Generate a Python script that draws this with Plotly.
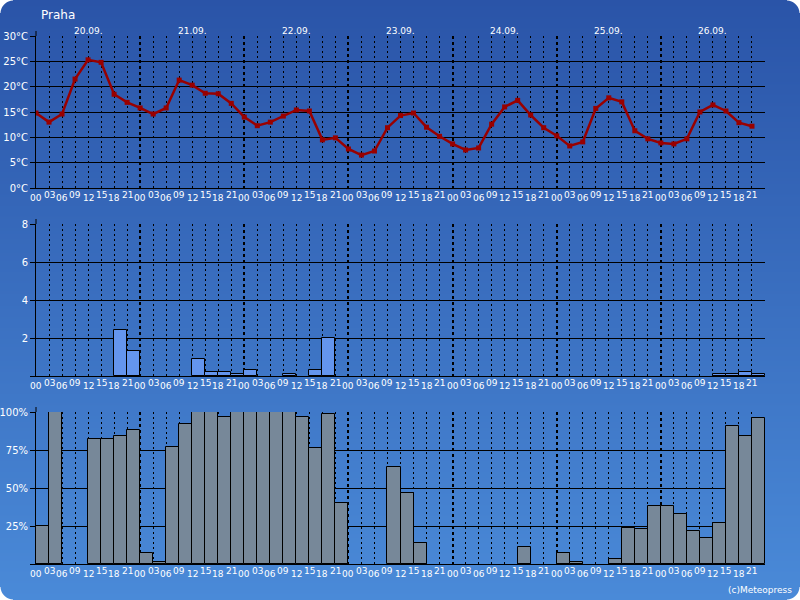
import base64, struct, zlib
import numpy as np
import plotly.graph_objects as go

# ---------------- data ----------------
days = ["20.09.", "21.09.", "22.09.", "23.09.", "24.09.", "25.09.", "26.09."]
hours = ["00", "03", "06", "09", "12", "15", "18", "21"]

temperature = [
    14.8, 13.0, 14.6, 21.5, 25.3, 24.8, 18.5, 16.9,
    15.8, 14.6, 15.8, 21.3, 20.3, 18.7, 18.6, 16.7,
    14.0, 12.3, 13.0, 14.2, 15.4, 15.2, 9.5, 9.9,
    7.7, 6.5, 7.3, 11.9, 14.3, 14.8, 12.0, 10.2,
    8.7, 7.5, 7.9, 12.6, 16.0, 17.3, 14.4, 11.9,
    10.3, 8.3, 9.1, 15.7, 17.8, 17.0, 11.3, 9.7,
    8.9, 8.7, 9.7, 15.0, 16.4, 15.2, 12.9, 12.2,
]

precipitation = [
    0, 0, 0, 0, 0, 0, 2.4, 1.3,
    0, 0, 0, 0, 0.9, 0.2, 0.2, 0.1,
    0.3, 0, 0, 0.1, 0, 0.3, 2.0, 0,
    0, 0, 0, 0, 0, 0, 0, 0,
    0, 0, 0, 0, 0, 0, 0, 0,
    0, 0, 0, 0, 0, 0, 0, 0,
    0, 0, 0, 0, 0.1, 0.1, 0.2, 0.1,
]

clouds = [
    25, 100, 0, 0, 82, 82, 84, 88,
    7, 1, 77, 92, 100, 100, 97, 100,
    100, 100, 100, 100, 97, 76, 99, 40,
    0, 0, 0, 64, 47, 14, 0, 0,
    0, 0, 0, 0, 0, 11, 0, 0,
    7, 1, 0, 0, 3, 24, 23, 38,
    38, 33, 22, 17, 27, 91, 84, 96,
]

temp_ticks = [0, 5, 10, 15, 20, 25, 30]
temp_tick_text = ["0°C", "5°C", "10°C", "15°C", "20°C", "25°C", "30°C"]
prec_ticks = [0, 2, 4, 6, 8]
prec_tick_text = ["", "2", "4", "6", "8"]
cloud_ticks = [0, 25, 50, 75, 100]
cloud_tick_text = ["", "25%", "50%", "75%", "100%"]

# ---------------- background image (gradient, rounded corners) ----------------
W, H = 800, 600
top_c = np.array([42, 84, 168], dtype=float)
bot_c = np.array([74, 138, 216], dtype=float)
t = np.linspace(0, 1, H)[:, None]
col = top_c[None, :] * (1 - t) + bot_c[None, :] * t
img = np.repeat(col[:, None, :], W, axis=1)
R = 13
yy, xx = np.mgrid[0:H, 0:W]
for cx, cy in [(R, R), (W - R - 1, R), (R, H - R - 1), (W - R - 1, H - R - 1)]:
    inx = (xx < R) if cx == R else (xx > W - R - 1)
    iny = (yy < R) if cy == R else (yy > H - R - 1)
    d = np.sqrt((xx - cx) ** 2 + (yy - cy) ** 2)
    a = np.clip(R + 0.5 - d, 0, 1)
    mask = inx & iny
    img[mask] = img[mask] * a[mask][:, None] + 255 * (1 - a[mask][:, None])
img = np.clip(np.round(img), 0, 255).astype(np.uint8)
raw = b"".join(b"\x00" + img[r].tobytes() for r in range(H))


def chunk(tag, data):
    c = struct.pack(">I", len(data)) + tag + data
    return c + struct.pack(">I", zlib.crc32(tag + data) & 0xFFFFFFFF)


png = b"\x89PNG\r\n\x1a\n" + chunk(b"IHDR", struct.pack(">IIBBBBB", W, H, 8, 2, 0, 0, 0)) \
    + chunk(b"IDAT", zlib.compress(raw, 9)) + chunk(b"IEND", b"")
bg_uri = "data:image/png;base64," + base64.b64encode(png).decode()

# ---------------- figure ----------------
n = len(temperature)
xs = list(range(n))
xb = [i + 0.5 for i in range(n)]

fig = go.Figure()
fig.add_trace(go.Scatter(
    x=xs, y=temperature, mode="lines+markers",
    line=dict(color="#990000", width=2.5),
    marker=dict(symbol="square", size=5, color="#990000"),
    xaxis="x", yaxis="y", hoverinfo="skip"))
fig.add_trace(go.Bar(
    x=xb, y=[v if v else None for v in precipitation], width=1,
    marker=dict(color="#6495ED", line=dict(color="black", width=1)),
    xaxis="x2", yaxis="y2", hoverinfo="skip"))
fig.add_trace(go.Bar(
    x=xb, y=[v if v else None for v in clouds], width=1,
    marker=dict(color="#778899", line=dict(color="black", width=1)),
    xaxis="x3", yaxis="y3", hoverinfo="skip"))

xdom = [36 / 800, 765 / 800]
panels = [  # (top px, bottom px)
    (36, 188), (224, 376), (412, 564)]
ydoms = [[1 - b / 600, 1 - t_ / 600] for (t_, b) in panels]

major = [d * 8 for d in range(1, len(days))]
minor = [i for i in range(1, n) if i % 8]

def xaxis_cfg(anchor):
    return dict(
        domain=xdom, range=[0, n], anchor=anchor, automargin=False,
        showline=True, linecolor="black", linewidth=1,
        tickmode="array", tickvals=major, showticklabels=False, ticks="",
        showgrid=True, gridcolor="black", gridwidth=2, griddash="3px,3px",
        minor=dict(tickmode="array", tickvals=minor, showgrid=True,
                   gridcolor="black", gridwidth=1, griddash="2px,3px", ticks=""),
        zeroline=False, fixedrange=True)

def yaxis_cfg(anchor, dom, rng, tv, tt):
    return dict(
        domain=dom, range=rng, anchor=anchor, automargin=False,
        showline=True, linecolor="black", linewidth=1,
        tickmode="array", tickvals=tv, ticktext=tt,
        ticks="outside", ticklen=5, tickcolor="black", tickwidth=1,
        tickfont=dict(family="DejaVu Sans", size=10, color="white"),
        showgrid=True, gridcolor="black", gridwidth=1,
        zeroline=False, fixedrange=True)

fig.update_layout(
    template="none",
    width=800, height=600, autosize=False,
    margin=dict(l=0, r=0, t=0, b=0, pad=0),
    paper_bgcolor="white", plot_bgcolor="rgba(0,0,0,0)",
    showlegend=False, bargap=0,
    font=dict(family="DejaVu Sans", color="white"),
    xaxis=xaxis_cfg("y"), xaxis2=xaxis_cfg("y2"), xaxis3=xaxis_cfg("y3"),
    yaxis=yaxis_cfg("x", ydoms[0], [0, 30], temp_ticks, temp_tick_text),
    yaxis2=yaxis_cfg("x2", ydoms[1], [0, 8], prec_ticks, prec_tick_text),
    yaxis3=yaxis_cfg("x3", ydoms[2], [0, 100], cloud_ticks, cloud_tick_text),
    images=[dict(source=bg_uri, xref="paper", yref="paper", x=0, y=1,
                 sizex=1, sizey=1, sizing="stretch", layer="below",
                 xanchor="left", yanchor="top")],
)

shapes = []
annots = []
for k, (xa, ya) in enumerate([("x", "y"), ("x2", "y2"), ("x3", "y3")]):
    # y axis line extension above the top gridline
    shapes.append(dict(type="line", xref=xa + " domain", yref=ya + " domain",
                       x0=0, x1=0, y0=1, y1=1 + 5 / 152,
                       line=dict(color="black", width=1)))
    for i in range(n):
        lab = hours[i % 8]
        annots.append(dict(
            text=lab, x=i, xref=xa, y=0, yref=ya + " domain",
            yanchor="middle", xanchor="center",
            yshift=-(7 if i % 2 else 9.5), showarrow=False,
            font=dict(family="DejaVu Sans", size=9, color="white")))

for d, lab in enumerate(days):
    annots.append(dict(
        text=lab, x=d * 8 + 4, xref="x", y=1, yref="y domain",
        yanchor="middle", xanchor="center", yshift=5, showarrow=False,
        font=dict(family="DejaVu Sans", size=9, color="white")))

annots.append(dict(text="Praha", x=39 / 800, xref="paper", y=1 - 15 / 600,
                   yref="paper", xanchor="left", yanchor="middle", showarrow=False,
                   font=dict(family="DejaVu Sans", size=12, color="white")))
annots.append(dict(text="(c)Meteopress", x=794 / 800, xref="paper",
                   y=1 - 590 / 600, yref="paper", xanchor="right",
                   yanchor="middle", showarrow=False,
                   font=dict(family="DejaVu Sans", size=9, color="white")))

fig.update_layout(shapes=shapes, annotations=annots)
fig.write_html(
    "out.html",
    config={"displayModeBar": False, "responsive": False},
    post_script="document.body.style.margin='0';document.body.style.padding='0';"
                "document.body.style.overflow='hidden';",
)
